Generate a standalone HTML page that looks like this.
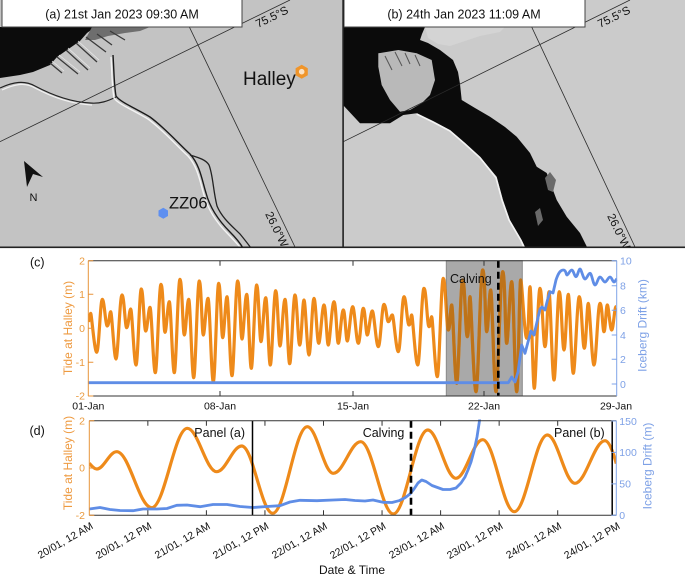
<!DOCTYPE html>
<html><head><meta charset="utf-8"><style>
html,body{margin:0;padding:0;background:#fff;}
svg{display:block;}
text{font-family:"Liberation Sans",Arial,sans-serif;}
</style></head><body>
<svg width="685" height="575" viewBox="0 0 685 575">
<defs>
<clipPath id="ca"><rect x="0" y="0" width="343" height="248"/></clipPath>
<clipPath id="cb"><rect x="343" y="0" width="342" height="248"/></clipPath>
<clipPath id="cc"><rect x="88.3" y="258" width="528.4" height="140"/></clipPath>
<clipPath id="box"><rect x="446.3" y="260.7" width="76" height="135.3"/></clipPath>
<clipPath id="cd"><rect x="89.3" y="419.5" width="527" height="97.5"/></clipPath>
<path id="tc" fill="none" d="M88.5,322 C89,319 89.9,313.3 90.7,313.3 S94.5,352.3 96.7,352.3 S100.3,299.3 102.3,299.3 S105.5,326 107.3,326 S109.5,311.7 110.7,311.7 S114.1,359 116,359 S119.8,295 122,295 S125,327.7 126.7,327.7 S129.3,309 130.7,309 S134.1,365 136,365 S139.4,289 141.3,289 S144.1,331 145.7,331 S148.5,307.3 150,307.3 S153.4,372.7 155.3,372.7 S158.9,284.3 161,284.3 S163.6,332.3 165,332.3 S167.8,301.7 169.3,301.7 S172.5,372.7 174.3,372.7 S177.9,279.3 180,279.3 S182.8,335 184.3,335 S187.1,299.3 188.7,299.3 S191.9,377.7 193.7,377.7 S197.3,281 199.3,281 S201.9,335 203.3,335 S206.3,298.3 208,298.3 S211.4,381.7 213.3,381.7 S216.8,283.3 218.7,283.3 S221.3,337.7 222.7,337.7 S225.5,296.7 227,296.7 S230.2,375.7 232,375.7 S235.6,281 237.7,281 S240.5,339 242,339 S245,294.3 246.7,294.3 S249.6,368.3 251.3,368.3 S254.8,285 256.7,285 S259.5,341.7 261,341.7 S264,297.7 265.7,297.7 S268.6,365 270.3,365 S273.8,290.7 275.7,290.7 S278.5,346 280,346 S283.2,299.3 285,299.3 S288,363.7 289.7,363.7 S293.1,295 295,295 S298,345 299.7,345 S302.5,300 304,300 S307.2,355 309,355 S312.2,298.3 314,298.3 S317,343.3 318.7,343.3 S322.1,305 324,305 S326.8,345 328.3,345 S331.9,301.7 334,301.7 S336.8,343.3 338.3,343.3 S341.5,310 343.3,310 S345.9,341 347.3,341 S350.8,306.7 352.7,306.7 S356.3,343.3 358.3,343.3 S361.5,308.3 363.3,308.3 S365.9,335 367.3,335 S370.5,311 372.3,311 S376.1,346.7 378.3,346.7 S381.9,304.3 384,304.3 S386.8,321.7 388.3,321.7 S390.9,315 392.3,315 S396.1,351.7 398.3,351.7 S401.9,296.7 404,296.7 S407.2,325 409,325 S410.7,315 411.7,315 S415.5,365 417.7,365 S421.7,288.3 424,288.3 S427.2,326.7 429,326.7 S430.7,316.7 431.7,316.7 S435.3,376.7 437.3,376.7 S441.1,278.3 443.3,278.3 S446.5,330 448.3,330 S450.5,305 451.7,305 S454.9,383.3 456.7,383.3 S460.5,280 462.7,280 S465.6,336.7 467.3,336.7 S469,296.7 470,296.7 S473.8,391.7 476,391.7 S480.3,270 482.7,270 S485.3,331.7 486.7,331.7 S489.3,290 490.7,290 S494.1,391.7 496,391.7 S500.3,271.7 502.7,271.7 S505.3,343.3 506.7,343.3 S509.9,281.7 511.7,281.7 S514.9,391.7 516.7,391.7 S519.3,280 520.7,280 S524.5,338.3 526.7,338.3 S528.8,286.7 530,286.7 S532.8,388.3 534.3,388.3 S537.9,288.3 540,288.3 S543.2,346.7 545,346.7 S547.6,291.7 549,291.7 S552.2,380 554,380 S557.4,291.7 559.3,291.7 S562.3,350 564,350 S566.8,294.3 568.3,294.3 S571.5,373.3 573.3,373.3 S577.1,296.7 579.3,296.7 S582.5,348.3 584.3,348.3 S586.9,303.3 588.3,303.3 S591.9,365 594,365 S597.8,303.3 600,303.3 S602.6,331.7 604,331.7 S606.1,305 607.3,305 S610.1,330 611.7,330 S614.5,306.7 616,306.7"/>
</defs>

<!-- ============ Panel (a) map ============ -->
<g clip-path="url(#ca)">
<rect x="0" y="0" width="343" height="248" fill="#c3c3c3"/>
<polygon points="0,27 95,27 87,33 80,41 67,50 57,57 50,65 33,72 20,75 0,78" fill="#0c0c0c"/>
<polygon points="92,27 150,27 140,31 125,33 108,36 95,40 85,40" fill="#6e6e6e"/>
<path d="M50,63 L62,73 M57,57 L78,74 M66,50 L88,70 M76,43 L97,62 M86,37 L106,52 M97,34 L112,45 M110,31 L125,40" stroke="#3a3a3a" stroke-width="1.3" fill="none"/>
<path d="M52,61 L64,71 M59,55 L80,72 M68,48 L90,68 M78,41 L99,60" stroke="#e8e8e8" stroke-width="0.8" fill="none"/>
<path d="M2,90 C15,84 25,82 35,88 C50,96 70,104 92,105" stroke="#f2f2f2" stroke-width="1.2" fill="none"/>
<path d="M0,88 C13,82 24,80 35,86 C50,94 70,102 90,103 C100,104 108,101 116,97" stroke="#222" stroke-width="1.2" fill="none"/>
<path d="M111,57 C112,72 112,87 114,98 C118,104 133,110 148,119 C163,130 176,145 188,156 C198,167 200,182 204,195 C208,210 216,222 228,234 C234,240 238,245 241,248" stroke="#f4f4f4" stroke-width="1.4" fill="none"/>
<path d="M113,55 C114,70 114,85 116,96 C120,102 135,108 150,117 C165,128 178,143 190,154 C200,165 202,180 206,193 C210,208 218,220 230,232 C236,238 240,243 243,248" stroke="#1a1a1a" stroke-width="1.4" fill="none"/>
<path d="M190,155 C200,158 206,160 209,165 C213,175 213,190 217,206 C222,218 232,226 240,234 C245,240 248,244 251,248" stroke="#222" stroke-width="1.3" fill="none"/>
<line x1="0" y1="141.7" x2="290" y2="0" stroke="#2a2a2a" stroke-width="0.8"/>
<line x1="176.4" y1="0" x2="295" y2="247" stroke="#2a2a2a" stroke-width="0.8"/>
<text transform="translate(258,28) rotate(-26)" font-size="11.5" fill="#111">75.5°S</text>
<text transform="translate(265,214) rotate(64)" font-size="11.5" fill="#111">26.0°W</text>
<polygon points="301.7,64.7 307.8,68.2 307.8,75.2 301.7,78.7 295.6,75.2 295.6,68.2" fill="#f0952a"/>
<circle cx="301.7" cy="71.7" r="2.8" fill="#fbe2c4"/>
<text x="243" y="85" font-size="19" fill="#111">Halley</text>
<polygon points="163.3,207.8 168,210.5 168,216 163.3,218.8 158.5,216 158.5,210.5" fill="#5e8ff0"/>
<text x="169" y="208.5" font-size="16.5" fill="#111">ZZ06</text>
<polygon points="24,161 43,177 33,174 27,187" fill="#111"/>
<text x="33.5" y="201" font-size="11" fill="#111" text-anchor="middle">N</text>
<rect x="2" y="-1" width="240" height="28" fill="#fff" stroke="#444" stroke-width="1"/>
<text x="122" y="18.5" font-size="12.5" fill="#111" text-anchor="middle">(a) 21st Jan 2023 09:30 AM</text>
</g>

<!-- ============ Panel (b) map ============ -->
<g clip-path="url(#cb)">
<rect x="343" y="0" width="342" height="248" fill="#cbcbcb"/>
<polygon points="425,27 505,27 500,32 480,36 462,42 450,46 438,44 428,38" fill="#d4d4d4"/>
<path d="M343,27 L425,27 L422,34 L420,40 L428,43 L440,50 L453,60 L458,72 L460,84 L461.7,100 L475,108 L490,116.7 L505,127 L516.7,136.7 L530,153 L536.7,166.7 L546.7,173 L551.7,186.7 L556.7,200 L566.7,216.7 L580,233 L587,247 L525,247 L521.7,240 L510,220 L503,200 L496.7,176.7 L480,156.7 L465,143 L450,130 L433,121 L416.7,113.3 L403.3,115 L390,123.3 L360,123.3 L343,105 Z" fill="#0b0b0b"/>
<polygon points="378.3,53.3 398.3,50 416.7,53.3 431.7,60 435,80 430,95 421.7,103.3 410,110 400,111.7 390,100 381.7,85 378.3,66.7" fill="#b9b9b9"/>
<path d="M385,56 L392,70 M395,52 L402,66 M405,53 L410,64 M415,55 L420,66" stroke="#555" stroke-width="1" fill="none"/>
<polygon points="545,178 550,172 556,180 553,192 548,190" fill="#6a6a6a"/>
<polygon points="535,212 540,208 543,220 538,226" fill="#6a6a6a"/>
<path d="M416.7,114 L433,122 L450,131 L465,144 L480,157.7 L496,177.7 L502,200 L509,220 L520.7,240 L524,247" stroke="#f2f2f2" stroke-width="1.6" fill="none"/>
<line x1="343.3" y1="141.7" x2="630" y2="0" stroke="#2a2a2a" stroke-width="0.8"/>
<line x1="519" y1="0" x2="635" y2="247" stroke="#2a2a2a" stroke-width="0.8"/>
<text transform="translate(600,28) rotate(-26)" font-size="11.5" fill="#111">75.5°S</text>
<text transform="translate(607,216) rotate(64)" font-size="11.5" fill="#111">26.0°W</text>
<rect x="344" y="-1" width="241" height="28" fill="#fff" stroke="#444" stroke-width="1"/>
<text x="464" y="18.5" font-size="12.5" fill="#111" text-anchor="middle">(b) 24th Jan 2023 11:09 AM</text>
</g>
<rect x="342.3" y="0" width="1.6" height="248" fill="#222"/>
<rect x="0" y="246.5" width="685" height="1.6" fill="#222"/>

<!-- ============ Panel (c) ============ -->
<text x="30" y="266.7" font-size="12.5" fill="#111">(c)</text>
<rect x="446.3" y="260.7" width="76" height="135.3" fill="#a9a9a9" stroke="#8a8a8a" stroke-width="1"/>
<g clip-path="url(#cc)">
<use href="#tc" stroke="#ee8a1a" stroke-width="3.2" stroke-linejoin="round" fill="none"/>
</g>
<g clip-path="url(#box)">
<use href="#tc" stroke="#be7319" stroke-width="3.2" stroke-linejoin="round" fill="none"/>
</g>
<path d="M88.3,382.7 L508.3,382.7 L511.7,377 L515,382 L518,372 L521.7,345 L525,353.3 L528,342 L531,331 L534,335 L537,322 L540,309 L542,307 L545,310 L547.5,300 L550,291.7 L553,293 L556,280 C558,274 560,270 563.3,270 S565.7,275 567,275 S570,270 571.7,270 S574.5,276.7 576,276.7 S578.6,269 580,269 S583.2,279 585,279 S588.2,273.3 590,273.3 S593.2,285 595,285 S598.2,277 600,277 S603.2,282 605,282 S608.2,277 610,277 S612.6,282 614,282 S615.7,279.5 616.7,279" stroke="#5f8de6" stroke-width="2.8" fill="none" stroke-linejoin="round"/>
<line x1="498.3" y1="260.7" x2="498.3" y2="396" stroke="#000" stroke-width="2.6" stroke-dasharray="7 4"/>
<text x="450" y="283" font-size="12.5" fill="#111">Calving</text>
<line x1="88.3" y1="260.7" x2="616.7" y2="260.7" stroke="#333" stroke-width="1"/>
<line x1="88.3" y1="396" x2="616.7" y2="396" stroke="#333" stroke-width="1"/>
<line x1="88.3" y1="260.7" x2="88.3" y2="396" stroke="#e8943a" stroke-width="1"/>
<line x1="616.7" y1="260.7" x2="616.7" y2="396" stroke="#7fa3e8" stroke-width="1"/>
<path d="M220,396V391 M353,396V391 M484,396V391 M220,260.7V265.7 M353,260.7V265.7 M484,260.7V265.7" stroke="#333" stroke-width="1"/>
<path d="M88.3,260.7H93.3 M88.3,294.3H93.3 M88.3,328.3H93.3 M88.3,362.3H93.3 M88.3,396H93.3" stroke="#e8943a" stroke-width="1"/>
<path d="M616.7,260.7H611.7 M616.7,285.7H611.7 M616.7,310.3H611.7 M616.7,335H611.7 M616.7,359.3H611.7 M616.7,384H611.7" stroke="#7fa3e8" stroke-width="1"/>
<g font-size="10.5" fill="#111" text-anchor="middle">
<text x="88.3" y="409.5">01-Jan</text>
<text x="220" y="409.5">08-Jan</text>
<text x="353" y="409.5">15-Jan</text>
<text x="484" y="409.5">22-Jan</text>
<text x="616" y="409.5">29-Jan</text>
</g>
<g font-size="10.5" fill="#ea9a3e" text-anchor="end">
<text x="85" y="264.5">2</text>
<text x="85" y="298">1</text>
<text x="85" y="332">0</text>
<text x="85" y="366">-1</text>
<text x="85" y="399.7">-2</text>
</g>
<g font-size="10.5" fill="#7ea1e6">
<text x="620" y="264.5">10</text>
<text x="620" y="289.5">8</text>
<text x="620" y="314">6</text>
<text x="620" y="338.8">4</text>
<text x="620" y="363">2</text>
<text x="620" y="387.8">0</text>
</g>
<text transform="translate(72,328) rotate(-90)" font-size="12" fill="#ee9a40" text-anchor="middle">Tide at Halley (m)</text>
<text transform="translate(646.5,325.5) rotate(-90)" font-size="12" fill="#7ea1e6" text-anchor="middle">Iceberg Drift (km)</text>

<!-- ============ Panel (d) ============ -->
<text x="29.5" y="435" font-size="12.5" fill="#111">(d)</text>
<g clip-path="url(#cd)">
<path d="M89.3,463.3 C91.5,465.5 94,469 96.7,469 C103.9,469 109.5,451.7 116.7,451.7 C129.3,451.7 139.1,507.7 151.7,507.7 C164.5,507.7 174.5,428.3 187.3,428.3 C197.9,428.3 206.1,471.7 216.7,471.7 C225.7,471.7 232.7,446 241.7,446 C252.9,446 261.5,513.3 272.7,513.3 C285.2,513.3 294.8,426.7 307.3,426.7 C316.7,426.7 323.9,473.3 333.3,473.3 C343.2,473.3 350.8,441.7 360.7,441.7 C372.4,441.7 381.6,514 393.3,514 C405.7,514 415.3,430 427.7,430 C437.9,430 445.8,478.3 456,478.3 C465.6,478.3 473.1,439.7 482.7,439.7 C494.1,439.7 502.9,511.7 514.3,511.7 C526.2,511.7 535.4,435 547.3,435 C557.3,435 565,483.3 575,483.3 C585.8,483.3 594.2,440.7 605,440.7 C609,440.7 613,452 616.3,463.5" stroke="#ee8a1a" stroke-width="3.2" fill="none"/>
<polyline points="89.3,509 100,507.5 110,509.5 120,510.5 133,510.7 143,509 157,509 167,508.5 176.7,505.3 187,505 200,506.7 213,504.5 227,504.5 240,506.5 253,507.5 267,506.5 280,505.7 290,502 300,500.3 317,500.7 333,500 345,499.5 355,500.5 365,501 373,500 383,502.3 392,502.5 399,500.7 405,497.7 410,494 414,489 418,483 421.7,480 426,481.5 432,485.5 443,489.5 450,489.5 456,488 461,483 465,477 468,470 471,462 474,451 477,437 479.3,422 481,410" stroke="#5f8de6" stroke-width="2.8" fill="none" stroke-linejoin="round"/>
</g>
<line x1="252.5" y1="420.7" x2="252.5" y2="515.3" stroke="#000" stroke-width="1.5"/>
<line x1="612.2" y1="420.7" x2="612.2" y2="515.3" stroke="#000" stroke-width="1.5"/>
<line x1="411" y1="420.7" x2="411" y2="515.3" stroke="#000" stroke-width="2.6" stroke-dasharray="7 4"/>
<g font-size="12.5" fill="#111">
<text x="194.3" y="437">Panel (a)</text>
<text x="362.7" y="437">Calving</text>
<text x="554" y="437">Panel (b)</text>
</g>
<line x1="89.3" y1="420.7" x2="616.3" y2="420.7" stroke="#333" stroke-width="1"/>
<line x1="89.3" y1="515.3" x2="616.3" y2="515.3" stroke="#333" stroke-width="1"/>
<line x1="89.3" y1="420.7" x2="89.3" y2="515.3" stroke="#e8943a" stroke-width="1"/>
<line x1="616.3" y1="420.7" x2="616.3" y2="515.3" stroke="#7fa3e8" stroke-width="1"/>
<path d="M147.85,515.3V510.3 M206.4,515.3V510.3 M264.95,515.3V510.3 M323.5,515.3V510.3 M382.05,515.3V510.3 M440.6,515.3V510.3 M499.15,515.3V510.3 M557.7,515.3V510.3 M147.85,420.7V425.7 M206.4,420.7V425.7 M264.95,420.7V425.7 M323.5,420.7V425.7 M382.05,420.7V425.7 M440.6,420.7V425.7 M499.15,420.7V425.7 M557.7,420.7V425.7" stroke="#333" stroke-width="1"/>
<path d="M89.3,420.7H94.3 M89.3,468H94.3 M89.3,515.3H94.3" stroke="#e8943a" stroke-width="1"/>
<path d="M616.3,421H611.3 M616.3,452.4H611.3 M616.3,483.9H611.3 M616.3,515.3H611.3" stroke="#7fa3e8" stroke-width="1"/>
<g font-size="10.5" fill="#ea9a3e" text-anchor="end">
<text x="85" y="424.5">2</text>
<text x="85" y="471.5">0</text>
<text x="85" y="519">-2</text>
</g>
<g font-size="10.5" fill="#7ea1e6">
<text x="619.3" y="424.8">150</text>
<text x="619.3" y="456.2">100</text>
<text x="619.3" y="487.7">50</text>
<text x="619.3" y="519">0</text>
</g>
<g font-size="10.5" fill="#111" text-anchor="end">
<text transform="translate(93.8,528) rotate(-30)">20/01, 12 AM</text>
<text transform="translate(152.35,528) rotate(-30)">20/01, 12 PM</text>
<text transform="translate(210.9,528) rotate(-30)">21/01, 12 AM</text>
<text transform="translate(269.45,528) rotate(-30)">21/01, 12 PM</text>
<text transform="translate(328,528) rotate(-30)">22/01, 12 AM</text>
<text transform="translate(386.55,528) rotate(-30)">22/01, 12 PM</text>
<text transform="translate(445.1,528) rotate(-30)">23/01, 12 AM</text>
<text transform="translate(503.65,528) rotate(-30)">23/01, 12 PM</text>
<text transform="translate(562.2,528) rotate(-30)">24/01, 12 AM</text>
<text transform="translate(620.75,528) rotate(-30)">24/01, 12 PM</text>
</g>
<text x="352" y="574" font-size="12" fill="#111" text-anchor="middle">Date &amp; Time</text>
<text transform="translate(72,463) rotate(-90)" font-size="12" fill="#ee9a40" text-anchor="middle">Tide at Halley (m)</text>
<text transform="translate(651.5,466) rotate(-90)" font-size="12" fill="#7ea1e6" text-anchor="middle">Iceberg Drift (m)</text>
</svg>
</body></html>
